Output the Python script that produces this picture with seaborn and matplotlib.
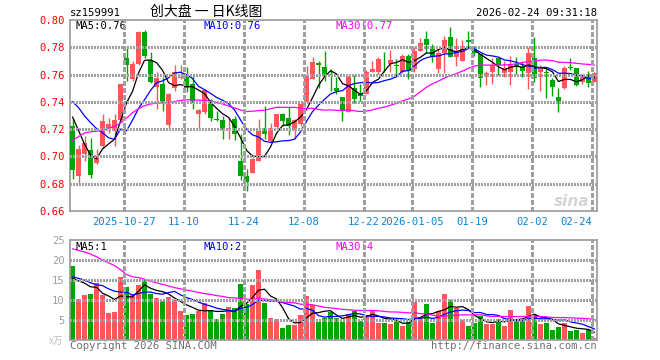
import numpy as np
import pandas as pd
import matplotlib
matplotlib.use("Agg")
import matplotlib.pyplot as plt
import seaborn as sns

# daily K line, 2025-10-14 .. 2026-02-24 (88 trading days)
opens = [0.7225, 0.6855, 0.702, 0.7044, 0.6955, 0.7075, 0.720, 0.7188, 0.7265, 0.7725,
         0.757, 0.768, 0.7915, 0.7705, 0.751, 0.753, 0.7231, 0.7505, 0.7575, 0.7591,
         0.753, 0.7314, 0.7329, 0.7412, 0.7275, 0.7265, 0.7198, 0.7272, 0.6966, 0.686,
         0.688, 0.6966, 0.7206, 0.7113, 0.7216, 0.7309, 0.7285, 0.7191, 0.7236, 0.7402,
         0.7567, 0.7682, 0.7653, 0.7607, 0.750, 0.7432, 0.7322, 0.7505, 0.7456, 0.7456,
         0.7616, 0.7616, 0.772, 0.7677, 0.7667, 0.7616, 0.7739, 0.764, 0.7775, 0.7858,
         0.780, 0.764, 0.7756, 0.7879, 0.7726, 0.7702, 0.7854, 0.780, 0.7751, 0.7595,
         0.762, 0.772, 0.7615, 0.762, 0.7677, 0.7658, 0.761, 0.7722, 0.7616, 0.7618,
         0.756, 0.7432, 0.7502, 0.7649, 0.7649, 0.7542, 0.7604, 0.7549]
highs = [0.728, 0.7083, 0.715, 0.7133, 0.7052, 0.7314, 0.728, 0.7314, 0.7532, 0.781,
         0.770, 0.7918, 0.793, 0.7764, 0.7616, 0.7579, 0.7464, 0.767, 0.767, 0.7657,
         0.7591, 0.7346, 0.7494, 0.742, 0.7334, 0.730, 0.7285, 0.7297, 0.7162, 0.6906,
         0.699, 0.7272, 0.7366, 0.7248, 0.7309, 0.7321, 0.7363, 0.7272, 0.7395, 0.7665,
         0.7731, 0.7702, 0.777, 0.764, 0.758, 0.7437, 0.7591, 0.7599, 0.753, 0.7633,
         0.7702, 0.7726, 0.7763, 0.778, 0.7714, 0.775, 0.775, 0.780, 0.7868, 0.7918,
         0.7825, 0.7788, 0.7886, 0.7947, 0.7869, 0.7854, 0.7923, 0.7812, 0.7751, 0.7625,
         0.772, 0.7726, 0.770, 0.7739, 0.7731, 0.769, 0.780, 0.7872, 0.7669, 0.7653,
         0.7575, 0.7502, 0.7665, 0.7722, 0.7649, 0.7604, 0.7627, 0.7616]
lows = [0.6838, 0.6794, 0.6966, 0.6843, 0.6945, 0.7064, 0.717, 0.7076, 0.7262, 0.7555,
        0.7555, 0.767, 0.7725, 0.7535, 0.7346, 0.7334, 0.7199, 0.7476, 0.7565, 0.7469,
        0.7346, 0.7199, 0.731, 0.726, 0.726, 0.7125, 0.7125, 0.7118, 0.683, 0.6745,
        0.6875, 0.6966, 0.7125, 0.7108, 0.7211, 0.7223, 0.7157, 0.7125, 0.7223, 0.740,
        0.7567, 0.7505, 0.7555, 0.748, 0.7456, 0.726, 0.7322, 0.7395, 0.7407, 0.7456,
        0.7616, 0.7604, 0.7616, 0.7616, 0.758, 0.7609, 0.7567, 0.7616, 0.7775, 0.7758,
        0.769, 0.7609, 0.7609, 0.7726, 0.7665, 0.7702, 0.780, 0.7739, 0.751, 0.752,
        0.753, 0.760, 0.758, 0.752, 0.7605, 0.758, 0.7497, 0.7542, 0.7477, 0.7431,
        0.7446, 0.7322, 0.7497, 0.763, 0.7515, 0.7534, 0.7509, 0.7542]
closes = [0.6898, 0.7052, 0.7096, 0.6863, 0.7004, 0.7258, 0.7235, 0.727, 0.753, 0.7672,
          0.7675, 0.791, 0.7735, 0.7542, 0.7575, 0.7395, 0.746, 0.762, 0.7585, 0.750,
          0.7388, 0.734, 0.7486, 0.728, 0.727, 0.7191, 0.7206, 0.7162, 0.6855, 0.6811,
          0.6978, 0.7187, 0.7167, 0.7206, 0.7309, 0.726, 0.7223, 0.7265, 0.7383, 0.7591,
          0.769, 0.7672, 0.7584, 0.760, 0.748, 0.7334, 0.7591, 0.742, 0.7444, 0.7616,
          0.764, 0.7714, 0.7719, 0.7707, 0.7665, 0.7739, 0.7623, 0.7775, 0.7835, 0.782,
          0.7731, 0.7756, 0.7854, 0.7731, 0.7763, 0.7812, 0.7837, 0.7756, 0.7572, 0.7615,
          0.767, 0.767, 0.7645, 0.767, 0.7653, 0.7628, 0.7756, 0.7572, 0.7647, 0.7614,
          0.751, 0.7402, 0.7649, 0.7647, 0.7527, 0.7591, 0.7535, 0.7609]
volumes = [18.6, 10.25, 11.25, 11.5, 14.25, 11.25, 6.75, 7.0, 15.8, 13.25,
           11.25, 13.75, 15.0, 11.5, 10.5, 9.75, 10.75, 10.0, 7.25, 6.25,
           6.5, 7.25, 9.25, 7.5, 5.25, 6.5, 8.25, 8.0, 14.0, 9.0,
           13.75, 17.5, 9.3, 5.5, 5.25, 3.0, 3.75, 3.75, 6.25, 11.0,
           8.75, 4.5, 5.5, 6.9, 5.5, 4.5, 6.5, 7.25, 4.75, 6.25,
           7.5, 4.25, 4.25, 4.0, 4.9, 3.5, 4.5, 9.5, 5.75, 9.0,
           4.25, 7.25, 11.5, 10.0, 8.0, 5.0, 3.5, 4.25, 6.0, 4.0,
           4.0, 5.25, 3.5, 7.5, 5.25, 4.75, 8.5, 6.25, 4.0, 4.25,
           2.5, 3.25, 4.25, 2.25, 2.5, 1.75, 2.5, 0.5]

# moving-average values before a full window exists
ma5_head = [0.729, 0.719, 0.709, 0.701]
ma10_head = [0.7402, 0.7358, 0.7297, 0.7248, 0.7204, 0.7174, 0.7137, 0.7125, 0.720]
ma30_head = [0.7118, 0.7145, 0.7172, 0.718, 0.7185, 0.719, 0.7205, 0.722, 0.7245, 0.728,
             0.732, 0.735, 0.7372, 0.7385, 0.739, 0.7392, 0.7395, 0.7402, 0.741, 0.7415,
             0.7415, 0.7413, 0.741, 0.7405, 0.7395, 0.7385, 0.737, 0.7355, 0.734]
vol_ma5_head = [15.4, 14.8, 14.2, 13.3]
vol_ma10_head = [15.8, 15.4, 15.0, 14.3, 13.8, 13.6, 12.8, 12.2, 12.0]
vol_ma30_head = [22.8, 22.4, 22.0, 21.5, 20.8, 20.0, 19.3, 18.6, 17.6, 16.4,
                 15.8, 15.6, 15.2, 14.7, 14.3, 13.9, 13.5, 13.1, 12.8, 12.5,
                 12.2, 11.9, 11.6, 11.4, 11.1, 10.9, 10.6, 10.5, 10.4]
# legend values as printed on the volume panel
vol_ma_labels = ["MA5:1", "MA10:2", "MA30:4"]

date_labels = ["2025-10-27", "11-10", "11-24", "12-08", "12-22", "2026-01-05", "01-19", "02-02", "02-24"]
date_index = [9, 19, 29, 39, 49, 57, 67, 77, 87]
price_levels = [0.68, 0.70, 0.72, 0.74, 0.76, 0.78]
vol_levels = [5, 10, 15, 20]


def moving_avg(values, n, head):
    s = pd.Series(values).rolling(n).mean().to_numpy()
    s[:n - 1] = head
    return s


RED = "#ff5757"
GREEN = "#00a600"
GRID = "#a0a0a0"
MONO = "DejaVu Sans Mono"

df = pd.DataFrame({"i": np.arange(len(closes)), "open": opens, "high": highs,
                   "low": lows, "close": closes, "vol": volumes})
df["kind"] = np.where(df["close"] >= df["open"], "up", "down")
df["ma5"] = moving_avg(closes, 5, ma5_head)
df["ma10"] = moving_avg(closes, 10, ma10_head)
df["ma30"] = moving_avg(closes, 30, ma30_head)
df["vma5"] = moving_avg(volumes, 5, vol_ma5_head)
df["vma10"] = moving_avg(volumes, 10, vol_ma10_head)
df["vma30"] = moving_avg(volumes, 30, vol_ma30_head)

sns.set_style("white")
plt.rcParams["font.family"] = ["Noto Sans CJK SC", "DejaVu Sans"]

W, H = 660, 360
rect1 = [70 / W, 1 - 211 / H, 527 / W, 191 / H]
rect2 = [70 / W, 1 - 340 / H, 527 / W, 100 / H]
fig = plt.figure(figsize=(6.6, 3.6), dpi=100)
ax1 = fig.add_axes(rect1)
ax2 = fig.add_axes(rect2)

xmin, xmax = -0.42, 87.42
grid_x = [i - 0.42 for i in date_index]
colors = list(np.where(df["kind"] == "up", RED, GREEN))

# price panel
ax1.vlines(df["i"].to_numpy(), df["low"].to_numpy(), df["high"].to_numpy(),
           colors=colors, lw=1.0, zorder=2)
body = np.maximum((df["close"] - df["open"]).abs().to_numpy(), 0.0005)
ax1.bar(df["i"].to_numpy(), body, bottom=np.minimum(df["open"], df["close"]).to_numpy(),
        width=0.83, color=colors, linewidth=0, zorder=3)
sns.lineplot(data=df, x="i", y="ma5", ax=ax1, color="black", lw=0.9, zorder=4)
sns.lineplot(data=df, x="i", y="ma10", ax=ax1, color="#0000ff", lw=0.9, zorder=4)
sns.lineplot(data=df, x="i", y="ma30", ax=ax1, color="#ff00ff", lw=0.9, zorder=4)
ax1.set_xlim(xmin, xmax)
ax1.set_ylim(0.66, 0.80)
yt = [0.66, 0.68, 0.70, 0.72, 0.74, 0.76, 0.78, 0.80]
ax1.set_yticks(yt)
ax1.set_yticklabels([f"{v:.2f}" for v in yt], fontfamily=MONO)
ax1.set_xticks(grid_x)
ax1.set_xticklabels(date_labels, fontfamily=MONO)
ax1.get_xticklabels()[-1].set_ha("right")
ax1.tick_params(axis="y", length=0, pad=4, labelsize=7.6, labelcolor="#ff0000")
ax1.tick_params(axis="x", length=0, pad=4, labelsize=7.6, labelcolor="#0a86d8")
ax1.set_xlabel("")
ax1.set_ylabel("")

# volume panel
sns.barplot(data=df, x="i", y="vol", hue="kind", palette={"up": RED, "down": GREEN},
            native_scale=True, width=0.83, dodge=False, saturation=1, legend=False,
            linewidth=0, ax=ax2, zorder=2)
sns.lineplot(data=df, x="i", y="vma5", ax=ax2, color="black", lw=0.9, zorder=4)
sns.lineplot(data=df, x="i", y="vma10", ax=ax2, color="#0000ff", lw=0.9, zorder=4)
sns.lineplot(data=df, x="i", y="vma30", ax=ax2, color="#ff00ff", lw=0.9, zorder=4)
ax2.set_xlim(xmin, xmax)
ax2.set_ylim(0, 25)
ax2.set_yticks([5, 10, 15, 20, 25])
ax2.set_yticklabels(["5", "10", "15", "20", "25"], fontfamily=MONO)
ax2.set_xticks([])
ax2.tick_params(axis="y", length=0, pad=4, labelsize=7.6, labelcolor="#a0a0a0")
ax2.set_xlabel("")
ax2.set_ylabel("")

for ax in (ax1, ax2):
    for side in ["left", "right", "top", "bottom"]:
        ax.spines[side].set_color("#a0a0a0")
        ax.spines[side].set_linewidth(1.3)


# grid on a transparent overlay in pixel units, built from short solid pieces
def grid_overlay(rect, height_px, y_lo, y_hi, levels):
    g = fig.add_axes(rect, zorder=5)
    g.set_xlim(0, 527)
    g.set_ylim(0, height_px)
    g.patch.set_visible(False)
    g.set_axis_off()
    dots = np.arange(0.0, 527.0, 3.0)
    for v in levels:
        yp = (v - y_lo) / (y_hi - y_lo) * height_px
        g.hlines(np.full(dots.size, yp), dots, dots + 1.0, colors=GRID,
                 linewidth=0.75, antialiased=False)
    dashes = np.arange(0.0, height_px, 7.0)
    for gx in grid_x:
        xp = (gx - xmin) / (xmax - xmin) * 527
        g.vlines(np.full(dashes.size, xp), dashes, np.minimum(dashes + 4.0, height_px),
                 colors=GRID, linewidth=0.75, antialiased=False)


grid_overlay(rect1, 191, 0.66, 0.80, price_levels)
grid_overlay(rect2, 100, 0, 25, vol_levels)


def ftext(x, y, s, **kw):
    fig.text(x / W, 1 - y / H, s, va="center", **kw)


ftext(70, 13, "sz159991", ha="left", fontsize=7.6, fontfamily=MONO, color="black")
ftext(206, 12, "创大盘 一 日K线图", ha="center", fontsize=10,
      fontfamily=["Noto Sans CJK SC", "DejaVu Sans"], color="black")
ftext(597, 13, "2026-02-24 09:31:18", ha="right", fontsize=7.6, fontfamily=MONO, color="black")

ftext(75, 26, f"MA5:{df['ma5'].iloc[-1]:.2f}", ha="left", fontsize=7.6, fontfamily=MONO, color="black")
ftext(204, 26, f"MA10:{df['ma10'].iloc[-1]:.2f}", ha="left", fontsize=7.6, fontfamily=MONO, color="#0000ff")
ftext(335, 26, f"MA30:{df['ma30'].iloc[-1]:.2f}", ha="left", fontsize=7.6, fontfamily=MONO, color="#ff00ff")
ftext(75, 247, vol_ma_labels[0], ha="left", fontsize=7.6, fontfamily=MONO, color="black")
ftext(204, 247, vol_ma_labels[1], ha="left", fontsize=7.6, fontfamily=MONO, color="#0000ff")
ftext(335, 247, vol_ma_labels[2], ha="left", fontsize=7.6, fontfamily=MONO, color="#ff00ff")

ftext(63, 341, "x万", ha="right", fontsize=7, fontfamily=["Noto Sans CJK SC", "DejaVu Sans"], color="#c0c0c0")
ftext(70, 346, "Copyright 2026 SINA.COM", ha="left", fontsize=7.6, fontfamily=MONO, color="#707070")
ftext(597, 346, "http://finance.sina.com.cn", ha="right", fontsize=7.6, fontfamily=MONO, color="#707070")
ftext(572, 201, "sina", ha="center", fontsize=11, fontweight="bold", fontstyle="italic",
      fontfamily="DejaVu Sans", color="#d4d4d4")

fig.savefig("out.png", dpi=100)
